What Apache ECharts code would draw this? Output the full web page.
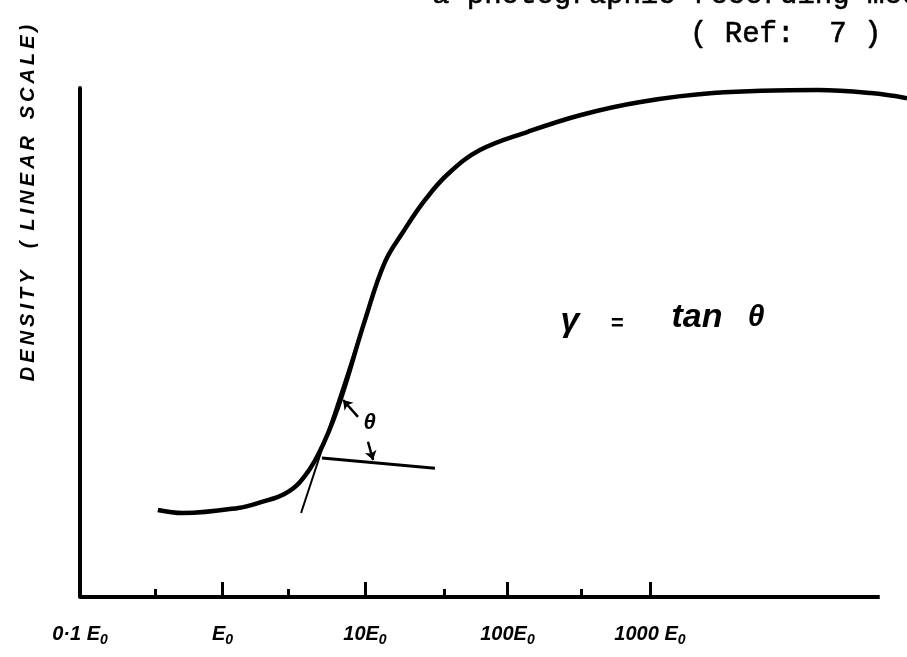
<!DOCTYPE html>
<html><head><meta charset="utf-8">
<script src="https://cdn.jsdelivr.net/npm/echarts@6/dist/echarts.min.js"></script>
<style>html,body{margin:0;padding:0;background:#fff}#c{width:907px;height:657px}</style>
</head><body><div id="c"></div>
<script>
// Characteristic (H&D) curve: exposure in units of E0 (log scale), density (linear, % of range)
const exposure = [0.352, 0.528, 1.29, 1.89, 2.70, 3.50, 4.68, 6.47, 10, 13.8, 18.5, 26.4, 38.2, 64.1, 139, 328, 838, 2770, 15100, 35600, 63700];
const density  = [17.1, 16.5, 17.5, 18.7, 20.2, 22.6, 27.9, 37.3, 54.4, 65.8, 71.7, 78.0, 83.1, 87.8, 91.4, 94.7, 97.2, 99.0, 99.6, 99.0, 98.0];
// tangent to the straight-line portion and the horizontal reference line
const tangentX = [3.56, 8.94];
const tangentY = [16.5, 50.5];
const baseX = [4.99, 31.0];
const baseY = [27.3, 25.3];
// angle arrows
const arrow1X = [8.93, 7.02];
const arrow1Y = [35.4, 38.7];
const arrow2X = [10.5, 11.4];
const arrow2Y = [30.5, 26.9];
const thetaAt = [10.8, 34.2];
// exposure axis: drawn extent, ticks and labels
const axisLineX = [0.1, 41000];
const axisLineY = [0, 0];
const majorTicks = [1, 10, 100, 1000];
const minorTicks = [0.34, 2.9, 36, 330];
const labelValues = [0.1, 1, 10, 100, 1000];
const labelMain = ['0·1 E', 'E', '10E', '100E', '1000 E'];
const labelSub = ['0', '0', '0', '0', '0'];

const hand = "'Liberation Sans', 'DejaVu Sans', sans-serif";
const pairs = (xs, ys) => xs.map((x, i) => [x, ys[i]]);

const chart = echarts.init(document.getElementById('c'), null, {renderer: 'canvas'});
const axisBase = {
  type: 'log', logBase: 10, min: 0.1, max: 63700, gridIndex: 0, position: 'bottom',
  splitLine: {show: false}, axisLine: {show: false}
};
chart.setOption({
  animation: false,
  backgroundColor: '#fff',
  grid: {left: 80, right: 0, top: 88, bottom: 60, containLabel: false, outerBoundsMode: 'none'},
  xAxis: [
    Object.assign({}, axisBase, {
      axisTick: {show: true, inside: true, length: 15, lineStyle: {color: '#000', width: 3}, customValues: majorTicks},
      axisLabel: {
        show: true, customValues: labelValues, margin: 24, color: '#000',
        formatter: function (val) {
          const i = labelValues.findIndex(v => Math.abs(Math.log10(v) - Math.log10(val)) < 0.01);
          return i >= 0 ? '{m|' + labelMain[i] + '}{s|' + labelSub[i] + '}' : '';
        },
        rich: {
          m: {fontSize: 20, fontWeight: 'bold', fontStyle: 'italic', fontFamily: hand, color: '#000', lineHeight: 26, verticalAlign: 'middle'},
          s: {fontSize: 14, fontWeight: 'bold', fontStyle: 'italic', fontFamily: hand, color: '#000', lineHeight: 14, verticalAlign: 'bottom'}
        }
      }
    }),
    Object.assign({}, axisBase, {
      axisTick: {show: true, inside: true, length: 8, lineStyle: {color: '#000', width: 3}, customValues: minorTicks},
      axisLabel: {show: false}
    })
  ],
  yAxis: {
    type: 'value', min: 0, max: 100,
    axisLine: {show: true, lineStyle: {color: '#000', width: 4}},
    axisTick: {show: false}, axisLabel: {show: false}, splitLine: {show: false}
  },
  series: [
    {
      type: 'line', xAxisIndex: 0, data: pairs(axisLineX, axisLineY),
      showSymbol: false, symbol: 'none', clip: false, lineStyle: {color: '#000', width: 4}
    },
    {
      type: 'line', xAxisIndex: 0, data: pairs(exposure, density), smooth: 0.4,
      showSymbol: false, symbol: 'none', clip: false,
      lineStyle: {color: '#000', width: 4.5}
    },
    {
      type: 'line', xAxisIndex: 0, data: pairs(tangentX, tangentY),
      showSymbol: false, symbol: 'none', lineStyle: {color: '#000', width: 2}
    },
    {
      type: 'line', xAxisIndex: 0, data: pairs(baseX, baseY),
      showSymbol: false, symbol: 'none', lineStyle: {color: '#000', width: 3}
    },
    {
      type: 'lines', coordinateSystem: 'cartesian2d', xAxisIndex: 0,
      symbol: ['none', 'arrow'], symbolSize: 9,
      lineStyle: {color: '#000', width: 2.5, opacity: 1},
      data: [
        {coords: pairs(arrow1X, arrow1Y)},
        {coords: pairs(arrow2X, arrow2Y)}
      ]
    },
    {
      type: 'scatter', xAxisIndex: 0, data: [thetaAt], symbolSize: 1,
      itemStyle: {color: 'rgba(0,0,0,0)'},
      label: {show: true, position: 'inside', formatter: 'θ', color: '#000',
        textBorderWidth: 0, opacity: 1,
        fontSize: 22, fontWeight: 'bold', fontStyle: 'italic', fontFamily: hand}
    }
  ],
  graphic: [
    {type: 'text', x: 28, y: 203, rotation: Math.PI / 2,
      style: {text: 'D\u2009E\u2009N\u2009S\u2009I\u2009T\u2009Y    (  L\u2009I\u2009N\u2009E\u2009A\u2009R   S\u2009C\u2009A\u2009L\u2009E\u2009)',
        align: 'center', verticalAlign: 'middle', fill: '#000',
        font: "italic bold 20px " + hand}},
    {type: 'text', x: 432, y: -5,
      style: {text: 'a photographic recording medium', align: 'left', verticalAlign: 'middle', fill: '#000',
        stroke: '#000', lineWidth: 0.6,
        font: "29px 'Liberation Mono', monospace"}},
    {type: 'text', x: 690, y: 34,
      style: {text: '( Ref:  7 )', align: 'left', verticalAlign: 'middle', fill: '#000',
        stroke: '#000', lineWidth: 0.6,
        font: "29px 'Liberation Mono', monospace"}},
    {type: 'text', x: 570, y: 322, style: {text: 'γ', align: 'center', verticalAlign: 'middle', fill: '#000', font: "italic bold 34px " + hand}},
    {type: 'text', x: 617, y: 324, style: {text: '=', align: 'center', verticalAlign: 'middle', fill: '#000', font: "italic bold 22px " + hand}},
    {type: 'text', x: 697, y: 318, style: {text: 'tan', align: 'center', verticalAlign: 'middle', fill: '#000', font: "italic bold 34px " + hand}},
    {type: 'text', x: 756, y: 318, style: {text: 'θ', align: 'center', verticalAlign: 'middle', fill: '#000', font: "italic bold 30px " + hand}}
  ]
});
</script>
</body></html>
